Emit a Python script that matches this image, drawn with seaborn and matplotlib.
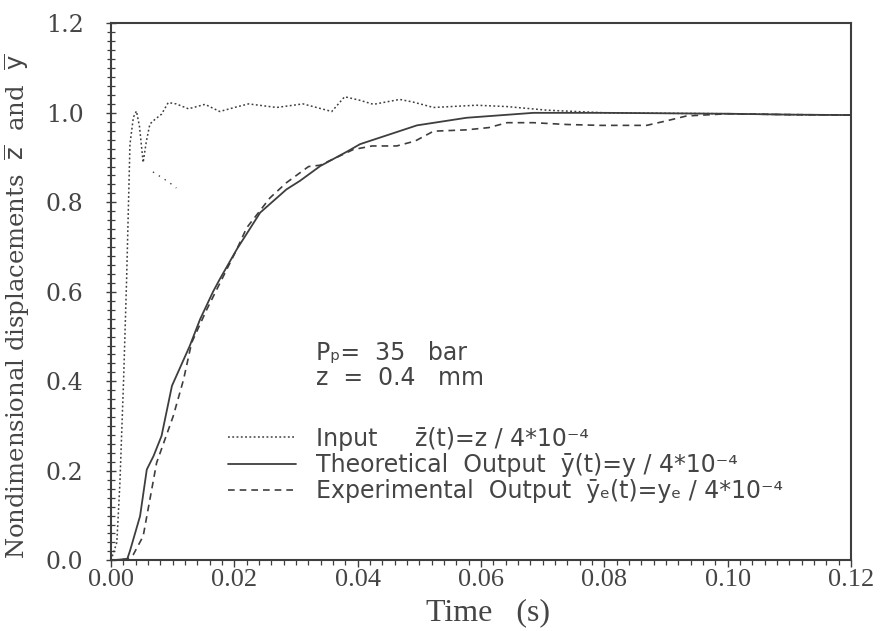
import matplotlib
matplotlib.use("Agg")
import matplotlib.pyplot as plt
import seaborn as sns
import pandas as pd
from matplotlib.lines import Line2D
from matplotlib.ticker import MultipleLocator

# ---- data ----
t_input = [0, 0.00095, 0.00144, 0.00204, 0.00254, 0.00308, 0.00363, 0.00413, 0.00462, 0.00522,
           0.00572, 0.00631, 0.0071, 0.0082, 0.00929, 0.01058, 0.01257, 0.01525, 0.01763,
           0.02002, 0.0223, 0.02687, 0.03114, 0.0358, 0.03789, 0.04038, 0.04256, 0.04683,
           0.04902, 0.0523, 0.05925, 0.06422, 0.07067, 0.0801, 0.0900, 0.1000, 0.1100, 0.1200]
v_input = [0, 0.04, 0.17, 0.40, 0.63, 0.93, 0.99, 1.004, 0.97, 0.889,
           0.935, 0.975, 0.985, 0.997, 1.023, 1.02, 1.009, 1.019, 1.003,
           1.012, 1.02, 1.012, 1.02, 1.003, 1.036, 1.028, 1.019, 1.03,
           1.024, 1.012, 1.017, 1.014, 1.006, 1.0, 0.999, 0.998, 0.996, 0.995]

# short stray dotted trace visible below the input overshoot
t_stray = [0.0068, 0.0093, 0.0106]
v_stray = [0.868, 0.846, 0.832]

t_theory = [0, 0.00264, 0.00308, 0.00472, 0.00581, 0.0069, 0.0082, 0.00989, 0.01277, 0.01446,
            0.01654, 0.01763, 0.0204, 0.02419, 0.02846, 0.03064, 0.03392, 0.03849, 0.04038,
            0.04961, 0.05766, 0.06849, 0.08, 0.09, 0.10, 0.11, 0.12]
v_theory = [0, 0.003, 0.021, 0.099, 0.203, 0.233, 0.278, 0.39, 0.479, 0.539,
            0.60, 0.628, 0.695, 0.777, 0.829, 0.848, 0.881, 0.915, 0.93, 0.972,
            0.989, 1.0, 1.0, 0.999, 0.998, 0.996, 0.995]

t_exp = [0, 0.00264, 0.00363, 0.00522, 0.00631, 0.0074, 0.01009, 0.01177, 0.01307, 0.01555,
         0.0204, 0.022, 0.02578, 0.02846, 0.03204, 0.03392, 0.03929, 0.04236, 0.04634, 0.04932,
         0.0523, 0.05766, 0.06124, 0.06422, 0.06849, 0.07385, 0.07931, 0.08686, 0.09004, 0.09332,
         0.1, 0.11, 0.12]
v_exp = [0, 0.003, 0.013, 0.054, 0.136, 0.218, 0.322, 0.404, 0.486, 0.561,
         0.695, 0.743, 0.81, 0.844, 0.88, 0.883, 0.918, 0.926, 0.926, 0.937,
         0.959, 0.962, 0.967, 0.978, 0.978, 0.974, 0.972, 0.972, 0.982, 0.993,
         0.998, 0.996, 0.995]

x_ticks = [0.00, 0.02, 0.04, 0.06, 0.08, 0.10, 0.12]
y_ticks = [0.0, 0.2, 0.4, 0.6, 0.8, 1.0, 1.2]

legend_labels = [
    "Input     z\u0304(t)=z / 4*10\u207b\u2074",
    "Theoretical  Output  \u0233(t)=y / 4*10\u207b\u2074",
    "Experimental  Output  \u0233\u2091(t)=y\u2091 / 4*10\u207b\u2074",
]

sns.set_theme(style="white")
plt.rcParams["font.family"] = ["DejaVu Sans"]
plt.rcParams["mathtext.fontset"] = "dejavusans"

ink = "#3e3e3e"
txt_col = "#454545"

fig = plt.figure(figsize=(8.8, 6.31), dpi=100)
ax = fig.add_axes([0.1261, 0.112, 0.841, 0.851])

df_in = pd.DataFrame({"t": t_input, "v": v_input})
df_st = pd.DataFrame({"t": t_stray, "v": v_stray})
df_th = pd.DataFrame({"t": t_theory, "v": v_theory})
df_ex = pd.DataFrame({"t": t_exp, "v": v_exp})

dot_style = (0, (1.2, 1.6))
dash_style = (0, (4, 3))

sns.lineplot(data=df_in, x="t", y="v", ax=ax, color=ink, lw=1.1,
             linestyle=dot_style, estimator=None, sort=False)
sns.lineplot(data=df_st, x="t", y="v", ax=ax, color=ink, lw=1.0,
             linestyle=(0, (1.0, 4.0)), estimator=None, sort=False)
sns.lineplot(data=df_th, x="t", y="v", ax=ax, color=ink, lw=1.3,
             linestyle="-", estimator=None, sort=False)
sns.lineplot(data=df_ex, x="t", y="v", ax=ax, color=ink, lw=1.2,
             linestyle=dash_style, estimator=None, sort=False)

ax.set_xlim(0, 0.12)
ax.set_ylim(0, 1.2)
ax.set_xticks(x_ticks)
ax.set_yticks(y_ticks)
ax.set_xticklabels([f"{v:.2f}" for v in x_ticks], family="Liberation Serif", fontsize=19, color=txt_col)
ax.set_yticklabels([f"{v:.1f}" for v in y_ticks], family="DejaVu Serif", fontsize=17, color=txt_col)
ax.xaxis.set_minor_locator(MultipleLocator(0.002))
ax.yaxis.set_minor_locator(MultipleLocator(0.02))
ax.tick_params(axis="x", which="major", direction="out", length=5, width=1.0, color=ink, pad=1)
ax.tick_params(axis="x", which="minor", direction="out", length=3.5, width=0.9, color=ink)
ax.tick_params(axis="y", which="major", direction="inout", length=7.5, width=1.0, color=ink, pad=16)
ax.tick_params(axis="y", which="minor", direction="inout", length=5.5, width=0.9, color=ink)
ax.tick_params(axis="x", which="both", bottom=True, top=False)
ax.tick_params(axis="y", which="both", left=True, right=False)

for s in ax.spines.values():
    s.set_color(ink)
    s.set_linewidth(1.5)

ax.set_xlabel("Time   (s)", family="Liberation Serif", fontsize=23, color=txt_col)
ax.xaxis.set_label_coords(0.509, -0.0705)
ax.set_ylabel(r"Nondimensional displacements  $\overline{\mathrm{z}}$  and  $\overline{\mathrm{y}}$",
              family="DejaVu Serif", fontsize=17.5, color=txt_col)
ax.yaxis.set_label_coords(-0.107, 0.473)

ax.text(0.0332, 0.4475, "P\u209a=  35   bar", fontsize=17, color=txt_col)
ax.text(0.0332, 0.392, "z  =  0.4   mm", fontsize=17, color=txt_col)

handles = [
    Line2D([], [], color=ink, lw=1.1, linestyle=dot_style),
    Line2D([], [], color=ink, lw=1.3, linestyle="-"),
    Line2D([], [], color=ink, lw=1.2, linestyle=dash_style),
]
leg = ax.legend(handles, legend_labels, loc="upper left", bbox_to_anchor=(0.158, 0.249),
                frameon=False, fontsize=17, handlelength=2.9, handletextpad=0.85,
                labelspacing=0.1, borderaxespad=0, borderpad=0)
for txt in leg.get_texts():
    txt.set_color(txt_col)

fig.savefig("out.png", dpi=100, facecolor="white")
